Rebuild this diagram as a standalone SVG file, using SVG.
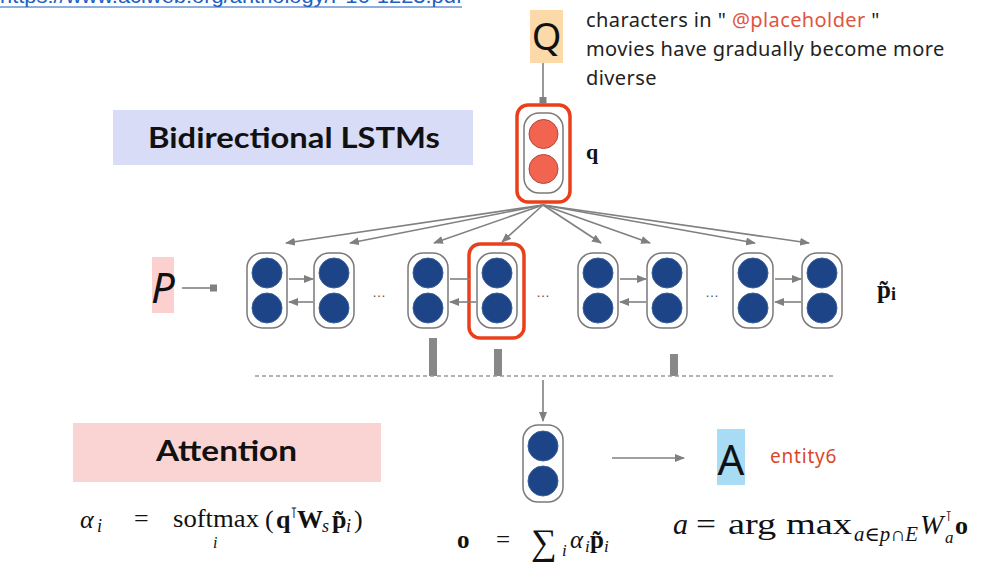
<svg xmlns="http://www.w3.org/2000/svg" width="997" height="582" viewBox="0 0 997 582">
<style>
.cell{fill:#fff;stroke:#7a7a7a;stroke-width:1.5}
.blue{fill:#1d4486;stroke:#3a5f99;stroke-width:1}
.red{fill:#f26450;stroke:#b04a3c;stroke-width:1}
.hl{fill:none;stroke:#e8401c;stroke-width:3.5}
.conn{stroke:#808080;stroke-width:1.6;fill:none}
.bar{fill:#888}
.lbl{font-family:"Noto Sans","Lato",sans-serif;fill:#222}
.hdr{font-family:"Lato","Noto Sans",sans-serif;font-weight:bold;fill:#111;font-size:29px}
.math{font-family:"Liberation Serif","DejaVu Serif",serif;fill:#111}
.dots{font-family:"Liberation Sans",sans-serif;fill:#555;font-size:14px}
</style>
<defs>
<marker id="ah" viewBox="0 0 10 8" refX="9" refY="4" markerWidth="10" markerHeight="8" markerUnits="userSpaceOnUse" orient="auto">
<path d="M0,0 L10,4 L0,8 z" fill="#808080"/>
</marker>
</defs>
<rect width="997" height="582" fill="#fff"/>

<g id="url">
<text x="0" y="3" font-family="Liberation Sans,sans-serif" font-size="20" fill="#1f5fbf" textLength="462" lengthAdjust="spacingAndGlyphs">https://www.aclweb.org/anthology/P16-1223.pdf</text>
<line x1="0" y1="7" x2="462" y2="7" stroke="#1f5fbf" stroke-width="1.2"/>
</g>

<g id="question">
<rect x="530" y="10" width="33" height="53" fill="#fbd9a8"/>
<text x="546.5" y="50" text-anchor="middle" font-family="Noto Sans,sans-serif" font-size="38" fill="#111">Q</text>
<text class="lbl" font-size="20" letter-spacing="0.4"><tspan x="586" y="27">characters in " <tspan fill="#e0553f">@placeholder</tspan> "</tspan><tspan x="586" y="56">movies have gradually become more</tspan><tspan x="586" y="85">diverse</tspan></text>
</g>

<g id="bilstm-title">
<rect x="113" y="110" width="360" height="55" fill="#d8dcf7"/>
<text class="hdr" x="148" y="148" textLength="292" lengthAdjust="spacingAndGlyphs">Bidirectional LSTMs</text>
</g>

<g id="q-cell">
<rect class="hl" x="517" y="105" width="53" height="97" rx="11"/>
<rect class="cell" x="524" y="113" width="39" height="80" rx="15"/>
<circle class="red" cx="543.5" cy="134" r="14.5"/>
<circle class="red" cx="543.5" cy="169" r="14.5"/>
<text class="math" x="586" y="159" font-size="22" font-weight="bold">q</text>
</g>

<g id="p-label">
<rect x="152" y="257" width="22" height="56" fill="#fbd0cf"/>
<text x="163" y="303" text-anchor="middle" font-family="Noto Sans,sans-serif" font-style="italic" font-size="42" fill="#111">P</text>
</g>

<g id="cell1"><rect class="cell" x="247" y="253" width="40" height="75" rx="15"/><circle class="blue" cx="267" cy="273" r="15"/><circle class="blue" cx="267" cy="308" r="15"/></g>
<g id="cell2"><rect class="cell" x="314" y="253" width="40" height="75" rx="15"/><circle class="blue" cx="334" cy="273" r="15"/><circle class="blue" cx="334" cy="308" r="15"/></g>
<g id="cell3"><rect class="cell" x="408" y="253" width="40" height="75" rx="15"/><circle class="blue" cx="428" cy="273" r="15"/><circle class="blue" cx="428" cy="308" r="15"/></g>
<g id="cell4"><rect class="hl" x="469" y="244" width="55" height="94" rx="11"/><rect class="cell" x="477" y="253" width="40" height="75" rx="15"/><circle class="blue" cx="497" cy="273" r="15"/><circle class="blue" cx="497" cy="308" r="15"/></g>
<g id="cell5"><rect class="cell" x="578" y="253" width="40" height="75" rx="15"/><circle class="blue" cx="598" cy="273" r="15"/><circle class="blue" cx="598" cy="308" r="15"/></g>
<g id="cell6"><rect class="cell" x="647" y="253" width="40" height="75" rx="15"/><circle class="blue" cx="667" cy="273" r="15"/><circle class="blue" cx="667" cy="308" r="15"/></g>
<g id="cell7"><rect class="cell" x="733" y="253" width="40" height="75" rx="15"/><circle class="blue" cx="753" cy="273" r="15"/><circle class="blue" cx="753" cy="308" r="15"/></g>
<g id="cell8"><rect class="cell" x="802" y="253" width="40" height="75" rx="15"/><circle class="blue" cx="822" cy="273" r="15"/><circle class="blue" cx="822" cy="308" r="15"/></g>

<g id="ellipses">
<text class="dots" x="379" y="297" text-anchor="middle">…</text>
<text class="dots" x="543" y="297" text-anchor="middle">…</text>
<text class="dots" x="712" y="297" text-anchor="middle">…</text>
</g>

<g id="pi-label">
<text class="math" x="877" y="298" font-size="25" font-weight="bold">p̃<tspan font-size="18" dy="2">i</tspan></text>
</g>

<g id="output-cell">
<rect class="cell" x="523" y="425" width="40" height="77" rx="15"/>
<circle class="blue" cx="543" cy="446" r="15"/>
<circle class="blue" cx="543" cy="481" r="15"/>
</g>

<g id="answer">
<rect x="717" y="429" width="28" height="56" fill="#a8dcf5"/>
<text x="731" y="475" text-anchor="middle" font-family="Noto Sans,sans-serif" font-size="42" fill="#111">A</text>
<text x="770" y="463" font-family="Noto Sans,sans-serif" font-size="19" letter-spacing="0.8" fill="#d9472b">entity6</text>
</g>

<g id="attention-title">
<rect x="73" y="423" width="308" height="59" fill="#fad4d2"/>
<text class="hdr" x="156" y="461" textLength="141" lengthAdjust="spacingAndGlyphs">Attention</text>
</g>

<g id="connectors">
<line class="conn" x1="543" y1="63" x2="543" y2="100"/>
<rect x="539.5" y="97" width="7" height="7" fill="#808080"/>
<line class="conn" x1="182" y1="288" x2="210" y2="288"/>
<rect x="210" y="284.5" width="7" height="7" fill="#808080"/>
<g marker-end="url(#ah)">
<line class="conn" x1="543" y1="205" x2="286" y2="243"/>
<line class="conn" x1="543" y1="205" x2="350" y2="243"/>
<line class="conn" x1="543" y1="205" x2="434" y2="243"/>
<line class="conn" x1="543" y1="205" x2="502" y2="242"/>
<line class="conn" x1="543" y1="205" x2="601" y2="243"/>
<line class="conn" x1="543" y1="205" x2="650" y2="243"/>
<line class="conn" x1="543" y1="205" x2="755" y2="243"/>
<line class="conn" x1="543" y1="205" x2="809" y2="243"/>
<line class="conn" x1="289" y1="279" x2="313" y2="279"/>
<line class="conn" x1="313" y1="302" x2="289" y2="302"/>
<line class="conn" x1="476" y1="302" x2="450" y2="302"/>
<line class="conn" x1="620" y1="279" x2="646" y2="279"/>
<line class="conn" x1="646" y1="302" x2="620" y2="302"/>
<line class="conn" x1="775" y1="279" x2="801" y2="279"/>
<line class="conn" x1="801" y1="302" x2="775" y2="302"/>
<line class="conn" x1="543" y1="380" x2="543" y2="421"/>
<line class="conn" x1="612" y1="458" x2="684" y2="458"/>
</g>
<line class="conn" x1="450" y1="279" x2="470" y2="279"/>
<rect class="bar" x="429" y="338" width="8" height="38"/>
<rect class="bar" x="494" y="349" width="8" height="27"/>
<rect class="bar" x="670" y="354" width="8" height="22"/>
<line x1="255" y1="376" x2="834" y2="376" stroke="#999" stroke-width="1.3" stroke-dasharray="4 3"/>
</g>

<g id="formula-attention" class="math" font-size="26">
<text x="80" y="528" font-style="italic">α</text>
<text x="97" y="532" font-style="italic" font-size="18">i</text>
<text x="134" y="527">=</text>
<text x="173" y="527" textLength="86" lengthAdjust="spacingAndGlyphs">softmax</text>
<text x="213" y="548" font-size="16" font-style="italic">i</text>
<text x="265" y="528">(</text>
<text x="276" y="528" font-weight="bold">q</text>
<text x="290" y="518" font-size="15">⊺</text>
<text x="297" y="528" font-weight="bold">W</text>
<text x="322" y="532" font-style="italic" font-size="18">s</text>
<text x="332" y="528" font-weight="bold">p̃</text>
<text x="346" y="532" font-style="italic" font-size="18">i</text>
<text x="354" y="528">)</text>
</g>

<g id="formula-output" class="math" font-size="25">
<text x="457" y="548" font-weight="bold">o</text>
<text x="496" y="548">=</text>
<text x="531" y="554" font-size="36">∑</text>
<text x="562" y="556" font-size="17" font-style="italic">i</text>
<text x="570" y="548" font-style="italic">α</text>
<text x="585" y="552" font-size="17" font-style="italic">i</text>
<text x="590" y="548" font-weight="bold">p̃</text>
<text x="604" y="552" font-size="17" font-style="italic">i</text>
</g>

<g id="formula-answer" class="math" font-size="30">
<text x="673" y="534" font-style="italic">a</text>
<text x="696" y="534" textLength="20" lengthAdjust="spacingAndGlyphs">=</text>
<text x="728" y="534" textLength="124" lengthAdjust="spacingAndGlyphs">arg max</text>
<text x="854" y="541" font-size="20" textLength="64" lengthAdjust="spacingAndGlyphs"><tspan font-style="italic">a</tspan>∈<tspan font-style="italic">p</tspan>∩<tspan font-style="italic">E</tspan></text>
<text x="920" y="534" font-style="italic" font-size="28">W</text>
<text x="945" y="521" font-size="14">⊺</text>
<text x="945" y="543" font-size="17" font-style="italic">a</text>
<text x="955" y="534" font-weight="bold" font-size="26">o</text>
</g>
</svg>
